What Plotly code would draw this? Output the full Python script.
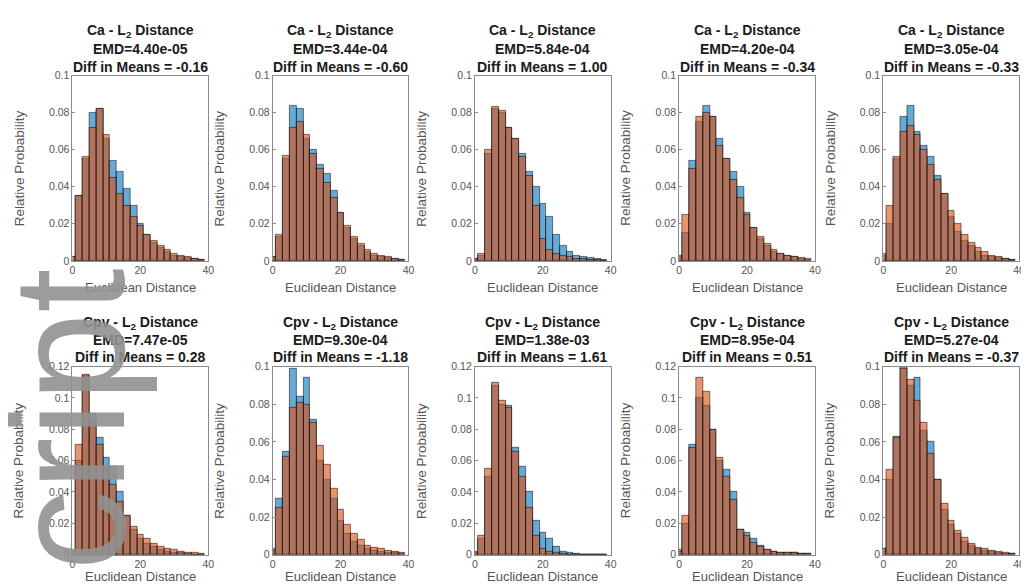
import plotly.graph_objects as go

# ---------------- data ----------------
BIN_CENTERS = [0, 2, 4, 6, 8, 10, 12, 14, 16, 18, 20, 22, 24, 26, 28, 30, 32, 34, 36, 38]
BIN_WIDTH = 2

ROW_NAMES = ["Ca", "Cpv"]
EMD_TEXT = [["4.40e-05", "3.44e-04", "5.84e-04", "4.20e-04", "3.05e-04"],
            ["7.47e-05", "9.30e-04", "1.38e-03", "8.95e-04", "5.27e-04"]]
DIFF_TEXT = [["-0.16", "-0.60", "1.00", "-0.34", "-0.33"],
             ["0.28", "-1.18", "1.61", "0.51", "-0.37"]]
Y_MAX = [[0.1, 0.1, 0.1, 0.1, 0.1],
         [0.12, 0.1, 0.12, 0.12, 0.1]]

CA_BLUE = [
    [0.002, 0.035, 0.055, 0.080, 0.082, 0.066, 0.054, 0.048, 0.039, 0.030, 0.020, 0.014, 0.010, 0.007, 0.005, 0.003, 0.002, 0.0015, 0.001, 0.0005],
    [0.002, 0.013, 0.055, 0.084, 0.082, 0.066, 0.060, 0.052, 0.047, 0.038, 0.026, 0.018, 0.012, 0.008, 0.005, 0.003, 0.002, 0.0015, 0.001, 0.0005],
    [0.001, 0.003, 0.058, 0.082, 0.080, 0.072, 0.066, 0.058, 0.048, 0.040, 0.031, 0.024, 0.014, 0.008, 0.005, 0.003, 0.002, 0.0015, 0.001, 0.0005],
    [0.002, 0.015, 0.054, 0.075, 0.084, 0.078, 0.066, 0.055, 0.048, 0.040, 0.026, 0.018, 0.012, 0.008, 0.005, 0.004, 0.003, 0.002, 0.001, 0.0005],
    [0.003, 0.020, 0.055, 0.078, 0.084, 0.070, 0.062, 0.056, 0.046, 0.036, 0.024, 0.016, 0.011, 0.008, 0.005, 0.003, 0.002, 0.0015, 0.001, 0.0005],
]
CA_ORANGE = [
    [0.002, 0.035, 0.056, 0.072, 0.082, 0.068, 0.045, 0.036, 0.030, 0.024, 0.019, 0.014, 0.011, 0.008, 0.006, 0.004, 0.003, 0.002, 0.001, 0.0005],
    [0.002, 0.014, 0.057, 0.072, 0.075, 0.068, 0.058, 0.050, 0.042, 0.034, 0.026, 0.019, 0.013, 0.009, 0.006, 0.004, 0.003, 0.002, 0.001, 0.0005],
    [0.001, 0.004, 0.060, 0.083, 0.081, 0.072, 0.066, 0.056, 0.046, 0.030, 0.012, 0.006, 0.004, 0.003, 0.002, 0.001, 0.001, 0.0005, 0.0005, 0.0003],
    [0.003, 0.025, 0.050, 0.078, 0.080, 0.078, 0.062, 0.055, 0.044, 0.034, 0.025, 0.018, 0.013, 0.009, 0.006, 0.004, 0.003, 0.002, 0.0015, 0.001],
    [0.004, 0.030, 0.056, 0.070, 0.073, 0.068, 0.060, 0.052, 0.044, 0.036, 0.027, 0.020, 0.014, 0.010, 0.007, 0.005, 0.003, 0.002, 0.001, 0.0005],
]
CPV_BLUE = [
    [0.002, 0.060, 0.114, 0.090, 0.075, 0.062, 0.056, 0.040, 0.025, 0.016, 0.010, 0.007, 0.005, 0.003, 0.002, 0.0015, 0.001, 0.0005, 0.0003, 0.0002],
    [0.003, 0.030, 0.055, 0.099, 0.084, 0.094, 0.072, 0.050, 0.040, 0.030, 0.018, 0.011, 0.007, 0.005, 0.003, 0.002, 0.0015, 0.001, 0.001, 0.0005],
    [0.001, 0.010, 0.050, 0.108, 0.096, 0.095, 0.068, 0.056, 0.040, 0.022, 0.014, 0.010, 0.005, 0.002, 0.001, 0.0005, 0.0003, 0.0002, 0.0001, 0.0001],
    [0.003, 0.020, 0.070, 0.100, 0.095, 0.080, 0.060, 0.054, 0.040, 0.016, 0.014, 0.010, 0.006, 0.003, 0.002, 0.0015, 0.001, 0.001, 0.0008, 0.0005],
    [0.003, 0.040, 0.063, 0.100, 0.090, 0.094, 0.066, 0.060, 0.040, 0.024, 0.016, 0.011, 0.007, 0.005, 0.003, 0.002, 0.0015, 0.001, 0.0007, 0.0005],
]
CPV_ORANGE = [
    [0.002, 0.070, 0.115, 0.085, 0.070, 0.055, 0.045, 0.034, 0.025, 0.018, 0.013, 0.010, 0.007, 0.005, 0.004, 0.003, 0.002, 0.0015, 0.001, 0.0005],
    [0.002, 0.025, 0.052, 0.078, 0.081, 0.080, 0.070, 0.058, 0.048, 0.035, 0.024, 0.016, 0.011, 0.008, 0.005, 0.004, 0.003, 0.002, 0.0015, 0.001],
    [0.002, 0.012, 0.055, 0.110, 0.098, 0.094, 0.066, 0.050, 0.030, 0.012, 0.004, 0.002, 0.001, 0.0005, 0.0003, 0.0002, 0.0001, 0.0001, 0.0001, 0.0001],
    [0.002, 0.025, 0.068, 0.113, 0.104, 0.080, 0.062, 0.050, 0.035, 0.016, 0.012, 0.008, 0.005, 0.003, 0.002, 0.0015, 0.001, 0.001, 0.0008, 0.0005],
    [0.003, 0.045, 0.062, 0.099, 0.093, 0.082, 0.070, 0.054, 0.040, 0.027, 0.018, 0.013, 0.009, 0.006, 0.004, 0.003, 0.002, 0.0015, 0.001, 0.0005],
]

BLUE_SERIES = [CA_BLUE, CPV_BLUE]
ORANGE_SERIES = [CA_ORANGE, CPV_ORANGE]

# ---------------- layout geometry (pixels) ----------------
W, H = 1029, 585
COL_LEFT = [62, 264, 468, 674, 880]
COL_WIDTH = 137
ROW_TOP = [63, 360]
ROW_BOTTOM = [252, 552]
TITLE_Y = [[17, 36, 54], [315, 333, 350]]
XTITLE_Y = [279, 574]

BLUE = "rgba(0,114,189,0.6)"
ORANGE = "rgba(217,83,25,0.62)"
FONT = "Liberation Sans, Arial, sans-serif"


def px(x):
    return x / W


def py(y):
    return 1 - y / H


fig = go.Figure()
annotations = []
layout_axes = {}

for r in range(2):
    for c in range(5):
        idx = r * 5 + c + 1
        xa = "x" if idx == 1 else f"x{idx}"
        ya = "y" if idx == 1 else f"y{idx}"
        xkey = "xaxis" if idx == 1 else f"xaxis{idx}"
        ykey = "yaxis" if idx == 1 else f"yaxis{idx}"

        for vals, col in ((BLUE_SERIES[r][c], BLUE), (ORANGE_SERIES[r][c], ORANGE)):
            fig.add_trace(go.Bar(
                x=BIN_CENTERS, y=vals, width=BIN_WIDTH,
                marker=dict(color=col, line=dict(color="rgba(0,0,0,0.85)", width=0.6)),
                xaxis=xa, yaxis=ya, showlegend=False, hoverinfo="skip",
            ))

        x0 = COL_LEFT[c]
        x1 = x0 + COL_WIDTH
        ymax = Y_MAX[r][c]
        n = int(round(ymax / 0.02))
        yt = [round(0.02 * k, 2) for k in range(n + 1)]
        ytxt = ["0"] + [f"{v:g}" for v in yt[1:]]

        common = dict(showgrid=False, zeroline=False, showline=True, mirror=True,
                      linecolor="#8a8a8a", linewidth=1, ticks="inside", ticklen=3,
                      tickcolor="#8a8a8a",
                      tickfont=dict(family=FONT, size=10.5, color="#555555"))
        layout_axes[xkey] = dict(domain=[px(x0), px(x1)], range=[0, 40],
                                 tickvals=[0, 20, 40], ticktext=["0", "20", "40"],
                                 anchor=ya, **common)
        layout_axes[ykey] = dict(domain=[py(ROW_BOTTOM[r]), py(ROW_TOP[r])],
                                 range=[0, ymax], tickvals=yt, ticktext=ytxt,
                                 anchor=xa, **common)

        cx = (x0 + x1) / 2
        lines = [f"{ROW_NAMES[r]} - L<sub>2</sub> Distance",
                 f"EMD={EMD_TEXT[r][c]}",
                 f"Diff in Means = {DIFF_TEXT[r][c]}"]
        for k, t in enumerate(lines):
            annotations.append(dict(
                text=f"<b>{t}</b>", x=px(cx), y=py(TITLE_Y[r][k]),
                xref="paper", yref="paper", xanchor="center", yanchor="middle",
                showarrow=False, font=dict(family=FONT, size=14, color="#1a1a1a")))
        annotations.append(dict(
            text="Euclidean Distance", x=px(cx), y=py(XTITLE_Y[r]),
            xref="paper", yref="paper", xanchor="center", yanchor="middle",
            showarrow=False, font=dict(family=FONT, size=13, color="#555555")))
        annotations.append(dict(
            text="Relative Probability", x=px(x0 - 54),
            y=py((ROW_TOP[r] + ROW_BOTTOM[r]) / 2),
            xref="paper", yref="paper", xanchor="center", yanchor="middle",
            textangle=-90, showarrow=False,
            font=dict(family=FONT, size=13.5, color="#555555")))

# watermark fragment visible on the source page
annotations.append(dict(
    text="cript", x=px(-34), y=py(258), xref="paper", yref="paper",
    xanchor="left", yanchor="top", textangle=-90, showarrow=False,
    font=dict(family=FONT, size=160, color="rgba(145,145,145,0.9)")))

fig.update_layout(
    width=W, height=H, margin=dict(l=0, r=0, t=0, b=0),
    paper_bgcolor="white", plot_bgcolor="white",
    barmode="overlay", bargap=0,
    annotations=annotations, **layout_axes,
)

fig.write_html("out.html")
